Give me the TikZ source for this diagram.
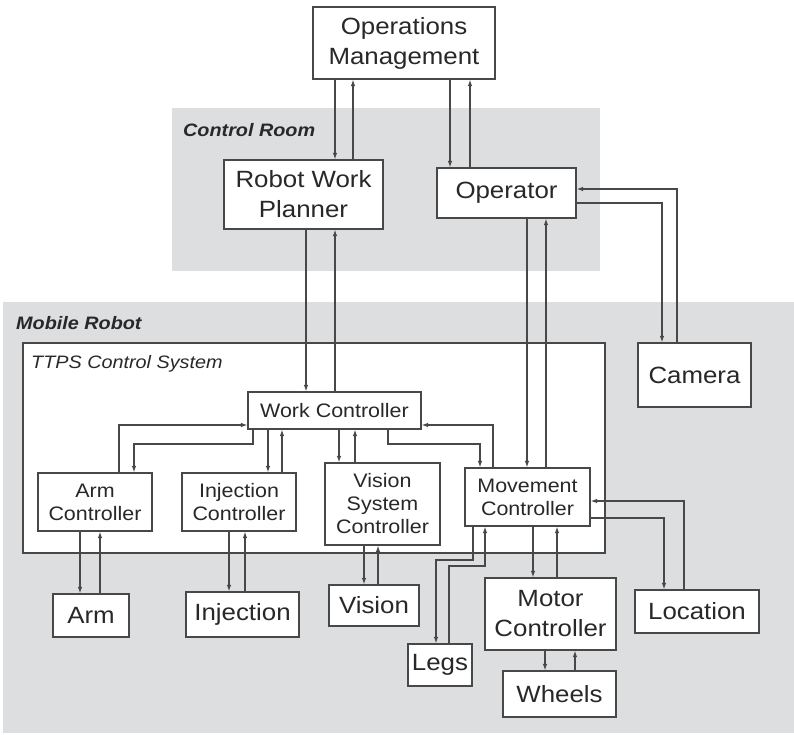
\documentclass[tikz,border=0pt]{standalone}
\usepackage{fontspec}
\setmainfont{Liberation Sans}[FakeStretch=1.1]
\usetikzlibrary{arrows.meta}
\definecolor{bggray}{RGB}{220,222,224}
\definecolor{linec}{RGB}{72,72,72}
\definecolor{txt}{RGB}{40,40,40}
\begin{document}
\begin{tikzpicture}[x=1pt,y=-1pt,
  box/.style={draw=linec, line width=1.2pt, fill=white, inner sep=0pt, align=center, text=txt},
  big/.style={font=\fontsize{23.5}{30}\selectfont},
  med/.style={font=\fontsize{19.5}{23}\selectfont},
  arr/.style={draw=linec, line width=1.1pt, -{Latex[length=6.5pt,width=4.5pt]}},
  region/.style={fill=bggray, draw=none},
  rlabel/.style={anchor=base west, text=txt, inner sep=0pt, font=\fontsize{18}{20}\selectfont\bfseries\itshape}
]
\useasboundingbox (0,0) rectangle (794,735);
\fill[white] (0,0) rectangle (794,735);
% regions
\fill[region] (172,108) rectangle (600,271);
\fill[region] (3,302) rectangle (794,733);
\node[rlabel] (crlab) at (183,137) {Control Room};
\node[rlabel] (mrlab) at (16,329) {Mobile Robot};
\node[draw=linec, line width=1.2pt, fill=white, minimum width=582pt, minimum height=210pt, inner sep=0pt] (ttps) at (314,448) {};
\node[anchor=base west, text=txt, inner sep=0pt, font=\fontsize{18}{20}\selectfont\itshape] (ttpslab) at (31,368) {TTPS Control System};

% nodes
\node[box,big,minimum width=182pt,minimum height=72pt] (om) at (404,43) {Operations\\Management};
\node[box,big,minimum width=159pt,minimum height=69pt] (rwp) at (303.5,194.5) {Robot Work\\Planner};
\node[box,big,minimum width=139pt,minimum height=50pt] (op) at (506.5,193) {Operator};
\node[box,big,minimum width=113pt,minimum height=64pt] (cam) at (694.5,375) {Camera};
\node[box,med,minimum width=173pt,minimum height=37pt] (wc) at (334.5,410.5) {Work Controller};
\node[box,med,minimum width=114pt,minimum height=58pt] (ac) at (95,502) {Arm\\Controller};
\node[box,med,minimum width=114pt,minimum height=58pt] (ic) at (239,502) {Injection\\Controller};
\node[box,med,minimum width=115pt,minimum height=82pt] (vc) at (382.5,504) {Vision\\System\\Controller};
\node[box,med,minimum width=125pt,minimum height=58pt] (mc) at (527.5,497) {Movement\\Controller};
\node[box,big,minimum width=76pt,minimum height=43pt] (arm) at (91,615.5) {Arm};
\node[box,big,minimum width=113pt,minimum height=45pt] (inj) at (242.5,614.5) {Injection};
\node[box,big,minimum width=90pt,minimum height=41pt] (vis) at (374,605.5) {Vision};
\node[box,big,minimum width=64pt,minimum height=42pt] (legs) at (440,665) {Legs};
\node[box,big,minimum width=131pt,minimum height=72pt] (motor) at (550.5,614) {Motor\\Controller};
\node[box,big,minimum width=113pt,minimum height=46pt] (wheels) at (559.5,694) {Wheels};
\node[box,big,minimum width=124pt,minimum height=43pt] (loc) at (697,611.5) {Location};

% connectors
\draw[arr] (om.south -| 335,0) -- (rwp.north -| 335,0);
\draw[arr] (rwp.north -| 353,0) -- (om.south -| 353,0);
\draw[arr] (om.south -| 450,0) -- (op.north -| 450,0);
\draw[arr] (op.north -| 470,0) -- (om.south -| 470,0);
\draw[arr] (cam.north -| 677,0) |- (op.east |- 0,189);
\draw[arr] (op.east |- 0,203) -| (cam.north -| 662,0);
\draw[arr] (rwp.south -| 306,0) -- (wc.north -| 306,0);
\draw[arr] (wc.north -| 335,0) -- (rwp.south -| 335,0);
\draw[arr] (op.south -| 527,0) -- (mc.north -| 527,0);
\draw[arr] (mc.north -| 546,0) -- (op.south -| 546,0);
\draw[arr] (ac.north -| 119,0) |- (wc.west |- 0,425);
\draw[arr] (wc.south -| 253,0) -- (253,444) -| (ac.north -| 134,0);
\draw[arr] (wc.south -| 268,0) -- (ic.north -| 268,0);
\draw[arr] (ic.north -| 282,0) -- (wc.south -| 282,0);
\draw[arr] (wc.south -| 339,0) -- (vc.north -| 339,0);
\draw[arr] (vc.north -| 355,0) -- (wc.south -| 355,0);
\draw[arr] (wc.south -| 388,0) -- (388,444) -| (mc.north -| 480,0);
\draw[arr] (mc.north -| 493,0) |- (wc.east |- 0,425);
\draw[arr] (ac.south -| 80,0) -- (arm.north -| 80,0);
\draw[arr] (arm.north -| 100,0) -- (ac.south -| 100,0);
\draw[arr] (ic.south -| 229,0) -- (inj.north -| 229,0);
\draw[arr] (inj.north -| 245,0) -- (ic.south -| 245,0);
\draw[arr] (vc.south -| 364,0) -- (vis.north -| 364,0);
\draw[arr] (vis.north -| 378,0) -- (vc.south -| 378,0);
\draw[arr] (mc.south -| 473,0) -- (473,560) -| (legs.north -| 436,0);
\draw[arr] (legs.north -| 449,0) -- (449,566) -| (mc.south -| 485,0);
\draw[arr] (mc.south -| 533,0) -- (motor.north -| 533,0);
\draw[arr] (motor.north -| 557,0) -- (mc.south -| 557,0);
\draw[arr] (motor.south -| 545,0) -- (wheels.north -| 545,0);
\draw[arr] (wheels.north -| 575,0) -- (motor.south -| 575,0);
\draw[arr] (loc.north -| 684,0) |- (mc.east |- 0,501);
\draw[arr] (mc.east |- 0,518) -| (loc.north -| 664,0);
\end{tikzpicture}
\end{document}
